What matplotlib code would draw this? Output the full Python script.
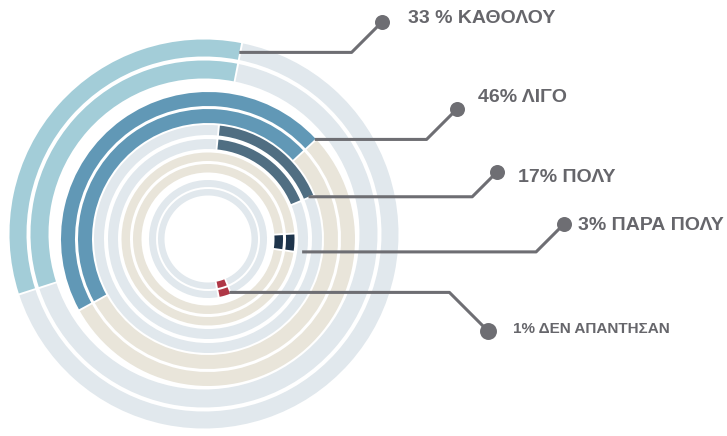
import numpy as np
import matplotlib.pyplot as plt
from matplotlib.patches import Wedge

labels = ["33 % ΚΑΘΟΛΟΥ", "46% ΛΙΓΟ", "17% ΠΟΛΥ", "3% ΠΑΡΑ ΠΟΛΥ", "1% ΔΕΝ ΑΠΑΝΤΗΣΑΝ"]
values = [33, 46, 17, 3, 1]

# layout in pixel space of the picture (y goes down)
seg_colors = ["#a3cdd8", "#6198b6", "#506e82", "#1e344b", "#af3746"]
bg_colors = ["#e1e8ed", "#e9e5da", "#e1e8ed", "#e9e5da", "#e1e8ed"]
centers = [(204, 234), (208, 239), (208, 239), (208, 239), (208, 239)]
bands = [[(194.5, 177.5), (173.5, 155.5)],
         [(147, 133), (130, 116)],
         [(114, 104), (100, 90)],
         [(86.5, 78), (75, 66.5)],
         [(59, 52), (50, 43.5)]]
start_ang = [79, 43, 84, 3, -68]     # degrees ccw from 3 o'clock
direction = [1, 1, -1, -1, -1]
anchor_edge = [0, 0, 1, 1, 0]        # 0 = segment start, 1 = segment end
anchor_r = [185, 146, 109, 95, 57.6]
dots = [(382, 22), (457, 109), (497, 172), (564, 224), (488, 331)]
text_xy = [(408, 23), (478, 102), (518, 182), (578, 230), (513, 333)]
text_size = [14, 14, 14, 14, 11]
dot_size = [10.8, 10.8, 10.8, 10.8, 12.2]
line_col = "#6e6e73"
text_col = "#66666b"
min_px = 9.5    # smallest visible arc length
gap_px = 2


def ring(ax, c, ro, ri, a0, a1, color):
    # y axis is flipped, so screen angles are negated
    ax.add_patch(Wedge(c, ro, -a1, -a0, width=ro - ri, facecolor=color,
                       edgecolor="none"))


fig = plt.figure(figsize=(7.27, 4.36), dpi=100)
ax = fig.add_axes([0, 0, 1, 1])
ax.set_xlim(0, 727)
ax.set_ylim(436, 0)
ax.axis("off")

for i in range(len(values)):
    c = centers[i]
    r_mid = (bands[i][0][0] + bands[i][1][1]) / 2
    span = max(values[i] / 100 * 360, np.degrees(min_px / r_mid))
    a_s = start_ang[i]
    a_e = a_s + direction[i] * span
    lo, hi = min(a_s, a_e), max(a_s, a_e)
    for ro, ri in bands[i]:
        g = np.degrees(gap_px / ro)
        ring(ax, c, ro, ri, hi + g, lo + 360 - g, bg_colors[i])
        ring(ax, c, ro, ri, lo, hi, seg_colors[i])

    # leader line
    a = np.radians(a_s if anchor_edge[i] == 0 else a_e)
    px = c[0] + anchor_r[i] * np.cos(a)
    py = c[1] - anchor_r[i] * np.sin(a)
    dx, dy = dots[i]
    ex = dx - abs(dy - py)
    ax.plot([px, ex, dx], [py, py, dy], color=line_col, lw=2.2,
            solid_capstyle="butt", zorder=3)
    ax.plot(dx, dy, "o", ms=dot_size[i], color=line_col, mec="none", zorder=4)
    ax.text(text_xy[i][0], text_xy[i][1], labels[i], fontsize=text_size[i],
            fontweight="bold", family="Liberation Sans", color=text_col,
            va="baseline", ha="left")

fig.savefig("out.png", dpi=100, facecolor="white")
